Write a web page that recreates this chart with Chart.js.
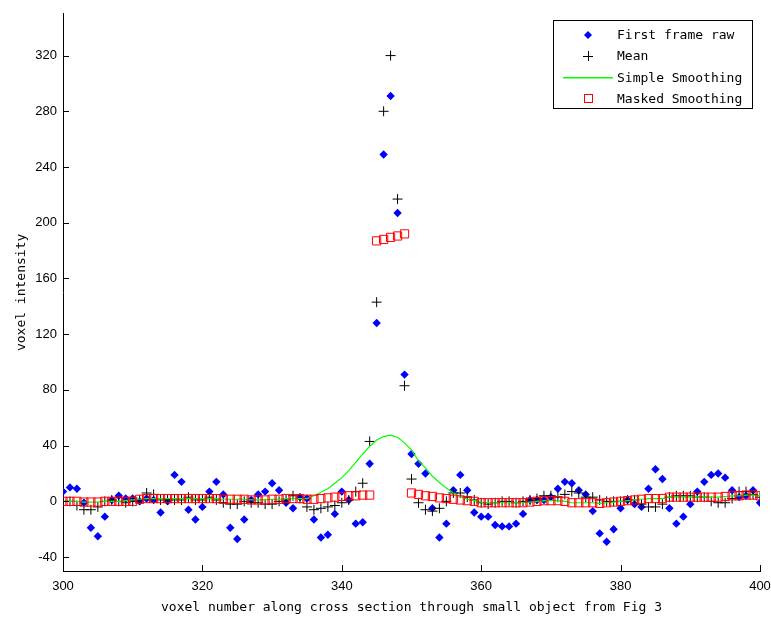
<!DOCTYPE html>
<html>
<head>
<meta charset="utf-8">
<script src="https://cdn.jsdelivr.net/npm/chart.js@4.4.1/dist/chart.umd.min.js"></script>
<style>
  html, body { margin: 0; padding: 0; background: #fff; }
  #wrap { width: 771px; height: 620px; }
</style>
</head>
<body>
<div id="wrap"><canvas id="profile" width="771" height="620"></canvas></div>
<script>
// ─────────────────────────────
// DATA
// ─────────────────────────────
const voxels = [
  300, 301, 302, 303, 304, 305, 306, 307, 308, 309,
  310, 311, 312, 313, 314, 315, 316, 317, 318, 319,
  320, 321, 322, 323, 324, 325, 326, 327, 328, 329,
  330, 331, 332, 333, 334, 335, 336, 337, 338, 339,
  340, 341, 342, 343, 344, 345, 346, 347, 348, 349,
  350, 351, 352, 353, 354, 355, 356, 357, 358, 359,
  360, 361, 362, 363, 364, 365, 366, 367, 368, 369,
  370, 371, 372, 373, 374, 375, 376, 377, 378, 379,
  380, 381, 382, 383, 384, 385, 386, 387, 388, 389,
  390, 391, 392, 393, 394, 395, 396, 397, 398, 399,
  400
];

const firstFrameRaw = [
  7, 10, 9, -1, -19, -25, -11, 1, 4, 2,
  2, 0, 2, 1, -8, 0, 19, 14, -6, -13,
  -4, 7, 14, 5, -19, -27, -13, 1, 5, 7,
  13, 8, -1, -5, 3, 2, -13, -26, -24, -9,
  7, 1, -16, -15, 27, 128, 249, 291, 207, 91,
  34, 27, 20, -5, -26, -16, 8, 19, 8, -8,
  -11, -11, -17, -18, -18, -16, -9, 1, 1, 1,
  3, 9, 14, 13, 8, 5, -7, -23, -29, -20,
  -5, 1, -2, -4, 9, 23, 16, -5, -16, -11,
  -2, 7, 14, 19, 20, 17, 8, 3, 4, 8,
  -1
];

const meanValues = [
  0, 0, -3, -6, -6, -4, 0, 1, 0, -1,
  0, 1, 6, 5, 1, 1, 1, 1, 3, 1,
  1, 3, 1, -1, -2, -2, 0, -1, -1, -2,
  -2, 0, 1, 4, 2, -4, -6, -5, -4, -3,
  -1, 1, 7, 13, 43, 143, 280, 320, 217, 83,
  16, -1, -6, -7, -5, 0, 6, 6, 3, 1,
  -1, -2, -1, 0, 0, -1, 0, 1, 2, 4,
  4, 3, 5, 7, 6, 3, 3, 1, 0, 0,
  0, 1, 1, -2, -4, -4, -2, 3, 4, 4,
  4, 3, 3, 0, -1, -1, 2, 7, 7, 5,
  3
];

const simpleSmoothing = [
  0, 0, 0, -0.5, -0.5, -0.5, 0, 0, 0, 0.5,
  1, 1.5, 2, 2, 2, 2, 2, 2, 2, 2,
  2, 2, 2, 1.5, 1.5, 1.5, 1.5, 1, 1, 1,
  1.5, 1.5, 2, 2, 2, 2, 4, 6.5, 9, 13,
  17, 22, 28, 34, 39.5, 44, 46.5, 47.5, 46, 42,
  37, 29, 24, 18, 13.5, 9.5, 6, 3.5, 1.5, 0.5,
  -0.5, -1, -1, -1, -1, -1, -1, -0.5, 0, 0.5,
  0.5, 0.5, 0, -1, -1, -1, -1, -1.5, -1, -0.5,
  0, 0.5, 1, 1.5, 2, 2, 2, 3, 3, 3,
  3, 3, 3, 3, 3, 3.5, 4, 4, 4.5, 4.5,
  4
];

const maskedSmoothing = [
  0, 0, 0, -0.5, -0.5, -0.5, 0, 0, 0, 0,
  0, 1.5, 2, 2, 2, 2, 2, 2, 2, 2,
  2, 2, 2, 1.5, 1.5, 1.5, 1.5, 1, 1, 1,
  1.5, 1.5, 2, 2, 2, 1.5, 1.5, 2, 2.5, 3,
  3.5, 4, 4, 4.5, 4.5, 187, 188, 189.5, 190.5, 192,
  6, 5, 4, 3.5, 2.5, 2, 1.5, 1, 0.5, 0,
  -1, -1, -1, -1, -1, -1, -1, -0.5, 0, 0.5,
  0.5, 0.5, 0, -1, -1, -1, -1, -1.5, -1, -0.5,
  0, 0.5, 1, 1.5, 2, 2, 2, 3, 3, 3,
  3, 3, 3, 3, 3, 3.5, 4, 4, 4.5, 4.5,
  4
];

const xTicks = [300, 320, 340, 360, 380, 400];
const yTicks = [-40, 0, 40, 80, 120, 160, 200, 240, 280, 320];

const seriesNames = ["First frame raw", "Mean", "Simple Smoothing", "Masked Smoothing"];

// ─────────────────────────────
// HELPERS
// ─────────────────────────────
function toPoints(values) {
  return voxels.map((v, i) => ({ x: v, y: values[i] }));
}

const monoFont = "'DejaVu Sans Mono', monospace";
const tickFont = "'Liberation Sans', Arial, sans-serif";

// ─────────────────────────────
// INWARD TICKS + LEGEND BOX
// ─────────────────────────────
const matlabAxes = {
  id: "matlabAxes",
  afterDraw(chart) {
    const ctx = chart.ctx;
    const area = chart.chartArea;
    const xs = chart.scales.x;
    const ys = chart.scales.y;

    ctx.save();
    ctx.strokeStyle = "#000";
    ctx.lineWidth = 1;
    ctx.beginPath();
    xs.ticks.forEach(t => {
      const px = Math.round(xs.getPixelForValue(t.value)) + 0.5;
      ctx.moveTo(px, area.bottom);
      ctx.lineTo(px, area.bottom - 6);
    });
    ys.ticks.forEach(t => {
      const py = Math.round(ys.getPixelForValue(t.value)) + 0.5;
      ctx.moveTo(area.left, py);
      ctx.lineTo(area.left + 6, py);
    });
    ctx.stroke();

    // legend box
    const bx = 553.5, by = 20.5, bw = 199, bh = 88;
    ctx.fillStyle = "#fff";
    ctx.fillRect(bx, by, bw, bh);
    ctx.strokeRect(bx, by, bw, bh);

    const rows = [36, 57, 78.5, 100];
    const mx = 588;
    ctx.font = "13px " + monoFont;
    ctx.textBaseline = "middle";
    ctx.fillStyle = "#000";
    seriesNames.forEach((name, i) => {
      ctx.fillText(name, 617, rows[i]);
    });

    // diamond
    let y = rows[0] - 1;
    ctx.fillStyle = "#0000ff";
    ctx.beginPath();
    ctx.moveTo(mx, y - 4);
    ctx.lineTo(mx + 4, y);
    ctx.lineTo(mx, y + 4);
    ctx.lineTo(mx - 4, y);
    ctx.closePath();
    ctx.fill();

    // plus
    y = rows[1] - 1;
    ctx.strokeStyle = "#000";
    ctx.beginPath();
    ctx.moveTo(mx - 5, y + 0.5);
    ctx.lineTo(mx + 5, y + 0.5);
    ctx.moveTo(mx + 0.5, y - 5);
    ctx.lineTo(mx + 0.5, y + 5);
    ctx.stroke();

    // green line
    ctx.fillStyle = "#00ff00";
    ctx.fillRect(563, 77, 50, 1.5);

    // red square
    y = rows[3];
    ctx.strokeStyle = "#ff0000";
    ctx.strokeRect(mx - 3.5, Math.round(y) - 5.5, 8, 8);

    ctx.restore();
  }
};

// ─────────────────────────────
// CHART
// ─────────────────────────────
new Chart(document.getElementById("profile"), {
  type: "scatter",
  data: {
    datasets: [
      {
        label: seriesNames[3],
        data: toPoints(maskedSmoothing),
        pointStyle: "rect",
        pointRadius: 5.8,
        borderColor: "#ff0000",
        backgroundColor: "rgba(0,0,0,0)",
        borderWidth: 1,
        order: 0
      },
      {
        label: seriesNames[2],
        data: toPoints(simpleSmoothing),
        showLine: true,
        pointRadius: 0,
        borderColor: "#00ff00",
        borderWidth: 1.2,
        tension: 0,
        order: 1
      },
      {
        label: seriesNames[1],
        data: toPoints(meanValues),
        pointStyle: "cross",
        pointRadius: 5,
        borderColor: "#000",
        borderWidth: 1,
        order: 2
      },
      {
        label: seriesNames[0],
        data: toPoints(firstFrameRaw),
        pointStyle: "rectRot",
        pointRadius: 4.2,
        borderWidth: 0,
        backgroundColor: "#0000ff",
        borderColor: "#0000ff",
        order: 3
      }
    ]
  },
  options: {
    responsive: false,
    animation: false,
    layout: { padding: { top: 12, right: 0, left: 0, bottom: 0 } },
    plugins: {
      legend: { display: false },
      tooltip: { enabled: false }
    },
    scales: {
      x: {
        type: "linear",
        min: 300,
        max: 400,
        afterBuildTicks: s => { s.ticks = xTicks.map(v => ({ value: v })); },
        afterFit: s => { s.height = 49; s.paddingRight = 11; },
        grid: { display: false, drawTicks: false },
        border: { display: true, color: "#000", width: 1 },
        ticks: {
          color: "#000",
          padding: 8,
          font: { family: tickFont, size: 13 }
        },
        title: {
          display: true,
          text: "voxel number along cross section through small object from Fig 3",
          color: "#000",
          font: { family: monoFont, size: 13 },
          padding: { top: 5, bottom: 5 }
        }
      },
      y: {
        type: "linear",
        min: -50,
        max: 350,
        afterBuildTicks: s => { s.ticks = yTicks.map(v => ({ value: v })); },
        afterFit: s => { s.width = 63; },
        grid: { display: false, drawTicks: false },
        border: { display: true, color: "#000", width: 1 },
        ticks: {
          color: "#000",
          padding: 6,
          font: { family: tickFont, size: 13 }
        },
        title: {
          display: true,
          text: "voxel intensity",
          color: "#000",
          font: { family: monoFont, size: 13 },
          padding: { top: 14, bottom: 14 }
        }
      }
    }
  },
  plugins: [matlabAxes]
});
</script>
</body>
</html>
